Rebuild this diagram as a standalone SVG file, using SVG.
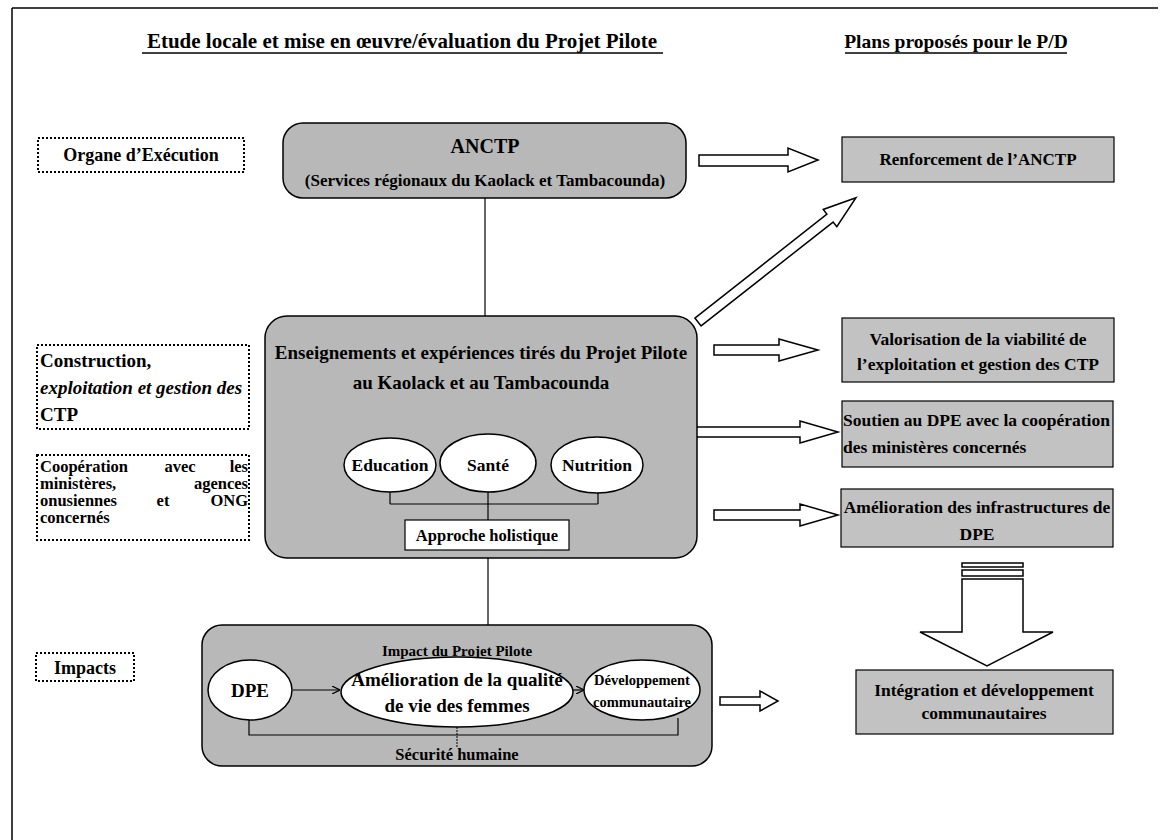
<svg xmlns="http://www.w3.org/2000/svg" width="1160" height="840" viewBox="0 0 1160 840" font-family="'Liberation Serif', 'DejaVu Serif', serif">
<style>
text{font-family:'Liberation Serif','DejaVu Serif',serif;font-weight:bold;fill:#000}
.lb{font-size:16.5px}
.rb{font-size:17.5px}
.g{fill:#b8b8b8;stroke:#000;stroke-width:1.5}
.r{fill:#c2c2c2;stroke:#000;stroke-width:1.2}
.dot{fill:#fff;stroke:#000;stroke-width:2;stroke-dasharray:2 2}
.el{fill:#fff;stroke:#000;stroke-width:1.5}
.ln{stroke:#000;stroke-width:1.2;fill:none}
.ba{fill:#fff;stroke:#000;stroke-width:1.5;stroke-linejoin:miter}
.c{text-anchor:middle}
</style>
<defs>
<marker id="ah" viewBox="0 0 10 10" refX="10" refY="5" markerWidth="8" markerHeight="8" markerUnits="userSpaceOnUse" orient="auto">
<path d="M0,0 L10,5 L0,10" fill="none" stroke="#000" stroke-width="1.5"/>
</marker>
</defs>
<g id="frame">
<line x1="12" y1="8" x2="1158" y2="8" stroke="#000" stroke-width="1.5"/>
<line x1="12" y1="8" x2="12" y2="840" stroke="#000" stroke-width="1.5"/>
</g>
<g id="headers">
<text class="c" x="402" y="48" font-size="21">Etude locale et mise en œuvre/évaluation du Projet Pilote</text>
<line x1="142" y1="53" x2="663" y2="53" stroke="#000" stroke-width="1.3"/>
<text class="c" x="956" y="48" font-size="19.5">Plans proposés pour le P/D</text>
<line x1="845" y1="53" x2="1067" y2="53" stroke="#000" stroke-width="1.3"/>
</g>
<g id="label-organe">
<rect class="dot" x="38" y="138" width="206" height="34"/>
<text class="c" x="141" y="161" font-size="18">Organe d’Exécution</text>
</g>
<g id="label-construction">
<rect class="dot" x="37" y="345" width="212" height="84"/>
<text x="40" y="367" font-size="19">Construction,</text>
<text x="40" y="394" font-size="19" font-style="italic">exploitation et gestion des</text>
<text x="40" y="421" font-size="19">CTP</text>
</g>
<g id="label-cooperation">
<rect class="dot" x="37" y="455" width="212" height="85"/>
<text class="lb" x="40" y="472">Coopération</text>
<text class="lb c" x="180" y="472">avec</text>
<text class="lb" x="248" y="472" text-anchor="end">les</text>
<text class="lb" x="40" y="489">ministères,</text>
<text class="lb" x="248" y="489" text-anchor="end">agences</text>
<text class="lb" x="40" y="506">onusiennes</text>
<text class="lb c" x="163" y="506">et</text>
<text class="lb" x="248" y="506" text-anchor="end">ONG</text>
<text class="lb" x="40" y="523">concernés</text>
</g>
<g id="label-impacts">
<rect class="dot" x="36" y="653" width="98" height="28"/>
<text class="c" x="85" y="674" font-size="18">Impacts</text>
</g>
<g id="connectors">
<line class="ln" x1="485" y1="198" x2="485" y2="316"/>
<line class="ln" x1="488" y1="558" x2="488" y2="625"/>
<polygon class="ba" points="699,155 788,155 788,148 818,160 788,172 788,166 699,166"/>
<polygon class="ba" transform="translate(698,322) rotate(-38.2)" points="0,-5 168,-5 168,-11 201,0 168,11 168,5 0,5"/>
<polygon class="ba" points="714,345 779,345 779,339 818,350 779,361 779,355 714,355"/>
<polygon class="ba" points="648,427 800,427 800,421 838,432 800,443 800,437 648,437"/>
<polygon class="ba" points="714,510 800,510 800,504 838,515 800,526 800,520 714,520"/>
<polygon class="ba" points="720,697 760,697 760,691 778,701 760,711 760,705 720,705"/>
<rect class="ba" x="962" y="563" width="61" height="4"/>
<rect class="ba" x="962" y="570" width="61" height="6"/>
<polygon class="ba" points="962,579 1023,579 1023,632 1053,632 987,666 920,632 962,632"/>
</g>
<g id="node-anctp">
<rect class="g" x="283" y="123" width="403" height="75" rx="20"/>
<text class="c" x="485" y="153" font-size="20">ANCTP</text>
<text class="c" x="485" y="186" font-size="17">(Services régionaux du Kaolack et Tambacounda)</text>
</g>
<g id="node-enseignements">
<rect class="g" x="265" y="316" width="432" height="242" rx="22"/>
<text class="c" x="481" y="359" font-size="19">Enseignements et expériences tirés du Projet Pilote</text>
<text class="c" x="481" y="389" font-size="19">au Kaolack et au Tambacounda</text>
<line class="ln" x1="390" y1="488" x2="390" y2="504"/>
<line class="ln" x1="598" y1="488" x2="598" y2="504"/>
<line class="ln" x1="390" y1="504" x2="598" y2="504"/>
<line class="ln" x1="488" y1="490" x2="488" y2="520"/>
<ellipse class="el" cx="390" cy="465" rx="46" ry="27"/>
<ellipse class="el" cx="488" cy="463" rx="48" ry="29"/>
<ellipse class="el" cx="597" cy="465" rx="46" ry="28"/>
<text class="c" x="390" y="471" font-size="17.5">Education</text>
<text class="c" x="488" y="471" font-size="17.5">Santé</text>
<text class="c" x="597" y="471" font-size="17.5">Nutrition</text>
<rect x="405" y="520" width="164" height="30" fill="#fff" stroke="#000" stroke-width="1.2"/>
<text class="c" x="487" y="541" font-size="16.5">Approche holistique</text>
</g>
<g id="node-impact">
<rect class="g" x="202" y="625" width="510" height="141" rx="20"/>
<text class="c" x="457" y="656" font-size="15">Impact du Projet Pilote</text>
<polyline class="ln" points="249,718 249,735 678,735 678,718"/>
<line x1="457" y1="727" x2="457" y2="748" stroke="#000" stroke-width="1" stroke-dasharray="2 1"/>
<ellipse class="el" cx="250" cy="690" rx="42" ry="30"/>
<ellipse class="el" cx="457" cy="692" rx="116" ry="35"/>
<ellipse class="el" cx="642" cy="690" rx="58" ry="30"/>
<line class="ln" x1="293" y1="690" x2="340" y2="690" marker-end="url(#ah)"/>
<line class="ln" x1="573" y1="690" x2="584" y2="690" marker-end="url(#ah)"/>
<text class="c" x="250" y="697" font-size="19">DPE</text>
<text class="c" x="457" y="686" font-size="19">Amélioration de la qualité</text>
<text class="c" x="457" y="712" font-size="19">de vie des femmes</text>
<text class="c" x="642" y="685" font-size="14.5">Développement</text>
<text class="c" x="642" y="707" font-size="14.5">communautaire</text>
<text class="c" x="457" y="760" font-size="16.5">Sécurité humaine</text>
</g>
<g id="node-renforcement">
<rect class="r" x="842" y="137" width="272" height="45"/>
<text class="c" x="978" y="165" font-size="17">Renforcement de l’ANCTP</text>
</g>
<g id="node-valorisation">
<rect class="r" x="842" y="318" width="272" height="64"/>
<text class="rb c" x="978" y="345">Valorisation de la viabilité de</text>
<text class="rb c" x="978" y="370">l’exploitation et gestion des CTP</text>
</g>
<g id="node-soutien">
<rect class="r" x="842" y="401" width="271" height="66"/>
<text class="rb" x="843" y="426">Soutien au DPE avec la coopération</text>
<text class="rb" x="843" y="453">des ministères concernés</text>
</g>
<g id="node-infrastructures">
<rect class="r" x="841" y="489" width="272" height="58"/>
<text class="rb c" x="977" y="513">Amélioration des infrastructures de</text>
<text class="rb c" x="977" y="540">DPE</text>
</g>
<g id="node-integration">
<rect class="r" x="856" y="670" width="257" height="64"/>
<text class="rb c" x="984" y="696">Intégration et développement</text>
<text class="rb c" x="984" y="719">communautaires</text>
</g>
</svg>
